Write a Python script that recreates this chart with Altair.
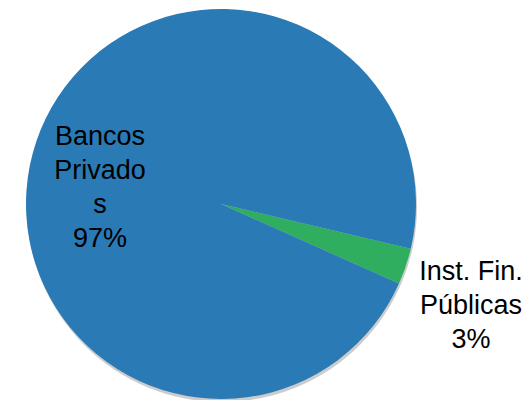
import math
import altair as alt
import pandas as pd

categories = ["Inst. Fin. Públicas", "Bancos Privados"]
labels = ["Inst. Fin.\nPúblicas\n3%", "Bancos\nPrivado\ns\n97%"]
values = [3, 97]
order = [0, 1]
colors = ["#2EAE5E", "#2A7AB6"]

df = pd.DataFrame({"cat": categories, "label": labels, "value": values, "ord": order})

CX, CY, R = 213, 196, 195
start = math.radians(103.3)

base = alt.Chart(df)

shadow = base.transform_filter(alt.datum.ord == 1).mark_arc(
    outerRadius=R, color="#000000", opacity=0.2, theta=0, theta2=2 * math.pi
).encode(x=alt.value(CX + 1), y=alt.value(CY + 3))

pie = base.mark_arc(outerRadius=R, stroke=None).encode(
    x=alt.value(CX),
    y=alt.value(CY),
    theta=alt.Theta("value:Q", stack=True,
                    scale=alt.Scale(range=[start, start + 2 * math.pi])),
    color=alt.Color("cat:N", scale=alt.Scale(domain=categories, range=colors), legend=None),
    order=alt.Order("ord:Q"),
)

txt_style = dict(font="Liberation Sans", fontSize=27, lineBreak="\n", lineHeight=34,
                 align="center", baseline="alphabetic", color="#000000")

t_big = base.transform_filter(alt.datum.ord == 1).mark_text(**txt_style).encode(
    x=alt.value(92), y=alt.value(137), text="label:N")
t_small = base.transform_filter(alt.datum.ord == 0).mark_text(**txt_style).encode(
    x=alt.value(463), y=alt.value(272), text="label:N")

chart = alt.layer(shadow, pie, t_big, t_small).properties(
    width=514, height=392, padding=0, autosize=alt.AutoSizeParams(type="none")
).configure_view(stroke=None)

chart.save("out.html", embed_options={"renderer": "svg", "actions": False})
